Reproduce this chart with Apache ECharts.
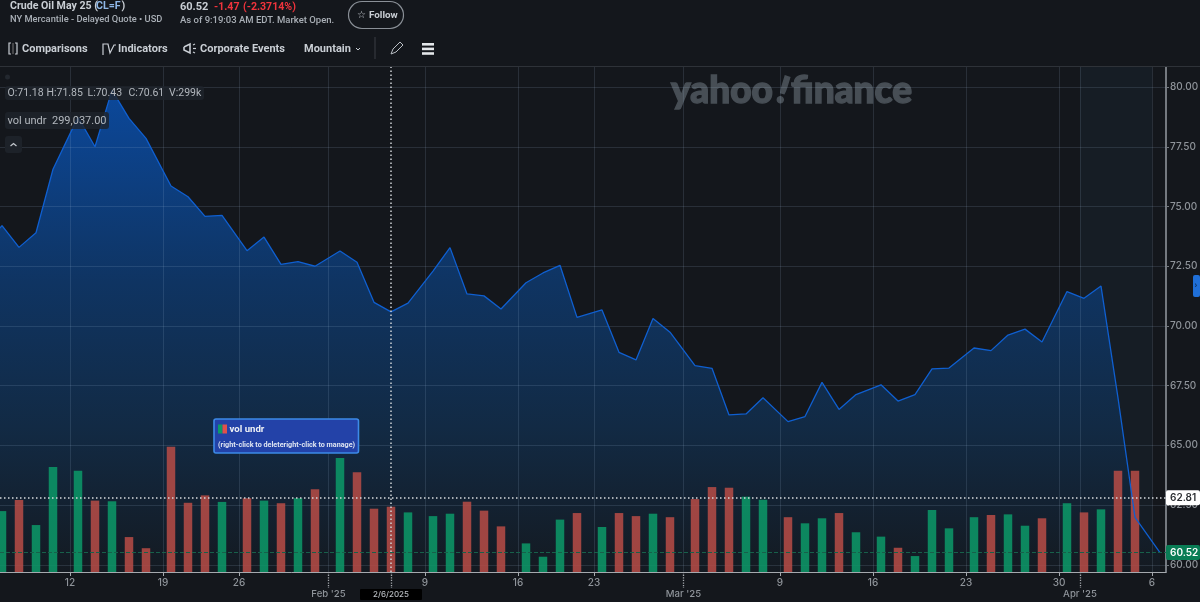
<!DOCTYPE html>
<html><head><meta charset="utf-8">
<style>html,body{margin:0;padding:0;background:#14171c}#c{width:1200px;height:602px}</style>
<script src="https://cdn.jsdelivr.net/npm/echarts@6/dist/echarts.min.js"></script>
</head><body><div id="c"></div>
<script>
const tradingDays = ['2025-01-06','2025-01-07','2025-01-08','2025-01-09','2025-01-10','2025-01-13','2025-01-14','2025-01-15','2025-01-16','2025-01-17','2025-01-21','2025-01-22','2025-01-23','2025-01-24','2025-01-27','2025-01-28','2025-01-29','2025-01-30','2025-01-31','2025-02-03','2025-02-04','2025-02-05','2025-02-06','2025-02-07','2025-02-10','2025-02-11','2025-02-12','2025-02-13','2025-02-14','2025-02-18','2025-02-19','2025-02-20','2025-02-21','2025-02-24','2025-02-25','2025-02-26','2025-02-27','2025-02-28','2025-03-03','2025-03-04','2025-03-05','2025-03-06','2025-03-07','2025-03-10','2025-03-11','2025-03-12','2025-03-13','2025-03-14','2025-03-17','2025-03-18','2025-03-19','2025-03-20','2025-03-21','2025-03-24','2025-03-25','2025-03-26','2025-03-27','2025-03-28','2025-03-31','2025-04-01','2025-04-02','2025-04-03','2025-04-04','2025-04-07'];
const closePrices = [73.40,74.20,73.29,73.90,76.56,78.74,77.50,79.87,78.69,77.85,75.86,75.41,74.59,74.63,73.15,73.72,72.58,72.69,72.50,73.14,72.67,70.99,70.59,70.96,72.30,73.28,71.34,71.26,70.71,71.81,72.22,72.54,70.36,70.67,68.90,68.58,70.31,69.74,68.34,68.23,66.28,66.32,67.00,66.00,66.21,67.64,66.51,67.13,67.54,66.86,67.13,68.21,68.24,69.08,68.97,69.62,69.87,69.33,71.44,71.16,71.67,66.99,61.99,60.52];
// volumes for the sessions from 2025-01-07 to 2025-04-04 (thousands)
const volumesK = [279,330,215,481,464,327,324,160,109,574,317,351,321,338,327,315,338,379,522,457,290,299,273,256,267,322,281,209,131,70,240,270,206,270,256,267,251,334,389,386,345,331,251,223,246,270,182,162,111,73,284,200,251,261,264,212,246,315,273,287,464,464];
const volumeDirs = 'GRGGGRGRRRRRGRGRGRGRRRGGGRRRGGGRGRRGRRRRGGRGGRGGRGGGGRGGRGRGRR'.split('');
const dayTicks = [['2025-01-12','12'],['2025-01-19','19'],['2025-01-26','26'],['2025-02-09','9'],['2025-02-16','16'],['2025-02-23','23'],['2025-03-09','9'],['2025-03-16','16'],['2025-03-23','23'],['2025-03-30','30'],['2025-04-06','6']];
const monthTicks = [['2025-02-01',"Feb '25"],['2025-03-01',"Mar '25"],['2025-04-01',"Apr '25"]];
const priceTicks = [60,62.5,65,67.5,70,72.5,75,77.5,80];
const lastPrice = 60.52, crossPrice = 62.81, crossDate = '2025-02-06', crossLabel = '2/6/2025';

const UP = '#0c9a68', DOWN = '#b84c46';
const FONT = "Roboto, 'DejaVu Sans', sans-serif";
const AXFONT = "Inter, 'DejaVu Sans', sans-serif";
const WEEKEND = 8/17;
const posByDate = {};
tradingDays.reduce((prev, d, i) => {
  const p = i === 0 ? -1 : prev + 1 + ((new Date(d) - new Date(tradingDays[i-1])) / 864e5 > 1 ? WEEKEND : 0);
  posByDate[d] = p; return p;
}, 0);
const tickPos = d => {
  if (posByDate[d] !== undefined) return posByDate[d] - 4/17;
  const dt = new Date(d);
  if (dt.getUTCDay() === 6) { const f = new Date(+dt - 864e5).toISOString().slice(0,10); return posByDate[f] + 13.5/17; }
  let n = +dt; let k;
  do { n += 864e5; k = new Date(n).toISOString().slice(0,10);} while (posByDate[k] === undefined);
  return posByDate[k] - WEEKEND;
};
const dayMap = dayTicks.map(t => [tickPos(t[0]), t[1]]);
const monthMap = monthTicks.map(t => [tickPos(t[0]), t[1]]);
const crossX = posByDate[crossDate];
const nearest = (map, v) => { let b = map[0]; map.forEach(m => { if (Math.abs(m[0]-v) < Math.abs(b[0]-v)) b = m; }); return b[1]; };
const xMin = -2/17, xMax = 1164/17;
const lineData = tradingDays.map((d,i) => [posByDate[d], closePrices[i]]);
const barData = volumesK.map((v,i) => ({ value:[posByDate[tradingDays[i+1]], v], itemStyle:{ color: volumeDirs[i]==='G'?UP:DOWN, opacity:.85 } }));
const areaFill = { type:'linear', global:true, x:0, y:90, x2:0, y2:572, colorStops:[
  {offset:0,color:'rgb(11,72,155)'},{offset:.4,color:'rgb(15,52,98)'},{offset:.7,color:'rgb(18,42,68)'},{offset:1,color:'rgb(20,26,33)'}]};

const txt = (x,y,text,font,fill,extra) => ({type:'text',silent:true,z:20,style:Object.assign({x,y,text,font:font+' '+FONT,fill,verticalAlign:'middle'},extra||{})});
const rect = (x,y,w,h,fill,r,extra) => ({type:'rect',silent:true,z:19,shape:{x,y,width:w,height:h,r:r||0},style:Object.assign({fill},extra||{})});
const poly = (pts,stroke,w) => ({type:'polyline',silent:true,z:20,shape:{points:pts},style:{stroke,lineWidth:w||1.2,fill:null}});
const C = '#c9ced4';
const WM = '#474e55';
const WMF = "900 37px Lato, sans-serif";
const header = [
  txt(10,6,'Crude Oil May 25 (','700 10.6px',C),
  txt(96,6,'CL=F','700 10.6px','#8fb8e8'),
  txt(121.5,6,')','700 10.6px',C),
  txt(10,20,'NY Mercantile - Delayed Quote • USD','500 9.3px','#a9afb6'),
  txt(180,7,'60.52','700 11px',C),
  txt(214,7,'-1.47','700 10.6px','#f0343c'),
  txt(243,7,'(-2.3714%)','700 10.6px','#f0343c'),
  txt(180,21,'As of 9:19:03 AM EDT. Market Open.','500 9.5px','#a9afb6'),
  {type:'rect',silent:true,z:19,shape:{x:348.5,y:1.5,width:55,height:27,r:13.5},style:{fill:'transparent',stroke:'#8a9097',lineWidth:1.2}},
  txt(357,15.5,'☆','700 10px',C),
  txt(369,15.5,'Follow','700 9.8px',C),
  poly([[11,43],[9,43],[9,54],[11,54]],C), poly([[15,43],[17,43],[17,54],[15,54]],C), poly([[13,43],[13,54]],'#777',1),
  txt(22,49.5,'Comparisons','700 11px',C),
  poly([[103,55],[103,44],[108,44],[110,53],[114,45],[116,45]],C),
  txt(118,49.5,'Indicators','700 11px',C),
  poly([[184,47],[190,44],[190,53],[184,50],[184,47]],C,1.6), poly([[193,45],[195,44]],C), poly([[193,48.5],[196,48.5]],C), poly([[193,52],[195,53]],C),
  txt(200,49.5,'Corporate Events','700 11px',C),
  txt(304,49.5,'Mountain','700 11px',C),
  poly([[356,48],[358,50],[360,48]],C,1),
  rect(374.5,37,1,22,'#3a3e44'),
  poly([[391,54],[393,49],[400,42],[403,45],[396,52],[391,54]],'#b9bec4',1),
  rect(422,43,12,2.6,'#e4e7ea'),rect(422,47.6,12,2.6,'#e4e7ea'),rect(422,52.2,12,2.6,'#e4e7ea'),
  rect(0,66,1200,1,'#2e3238'),
  {type:'circle',silent:true,z:19,shape:{cx:7.5,cy:77,r:2.5},style:{fill:'#23282f'}},
  rect(5,86,199,14,'rgba(30,35,43,.82)',3),
  txt(7.5,93.5,'O:71.18','400 10.5px','#b3b8be'),txt(46.5,93.5,'H:71.85','400 10.5px','#b3b8be'),txt(87.5,93.5,'L:70.43','400 10.5px','#b3b8be'),txt(128.5,93.5,'C:70.61','400 10.5px','#b3b8be'),txt(169,93.5,'V:299k','400 10.5px','#b3b8be'),
  rect(5,112,104,17,'rgba(30,35,43,.82)',3),
  txt(7.5,121,'vol undr','400 11px','#b3b8be'),txt(52,121,'299,037.00','400 11px','#b3b8be'),
  rect(5,136,17,17,'#1d2229',3),
  poly([[10.5,146],[13.5,143.5],[16.5,146]],'#c3c8ce',1.2),
  {type:'rect',silent:true,z:19,shape:{x:214,y:419,width:144.5,height:34,r:2},style:{fill:'#2342a8',stroke:'#3d8ae8',lineWidth:1.6}},
  rect(218,424.5,4.5,9,UP),rect(222.5,424.5,4.5,9,'#e0504a'),
  txt(229.5,429.5,'vol undr','700 9.6px','#eef1f6'),
  txt(218,445,'(right-click to deleteright-click to manage)','700 7.2px','#dfe5f2'),
  rect(1193,275,7,22,'#1f6fd8',2),
  txt(1194.5,286,'›','700 9px','#0d2a52'),
  {type:'text',silent:true,z:0,style:{x:671,y:91,text:'yahoo',font:WMF,fill:WM,stroke:WM,lineWidth:1.4,verticalAlign:'middle'}},
  {type:'text',silent:true,z:0,x:783,y:91,rotation:-0.3,style:{x:0,y:0,text:'!',font:WMF,fill:WM,stroke:WM,lineWidth:1.4,align:'center',verticalAlign:'middle'}},
  {type:'text',silent:true,z:0,style:{x:791,y:91,text:'finance',font:WMF,fill:WM,stroke:WM,lineWidth:1.4,verticalAlign:'middle'}}
];

const gridLineStyle = {color:'rgba(170,195,225,.14)',width:1,type:'solid'};
const dotted = {type:[1.5,2.5],width:1.5};
const chart = echarts.init(document.getElementById('c'),null,{renderer:'canvas'});
chart.setOption({
  animation:false,
  backgroundColor:'#14171c',
  textStyle:{fontFamily:AXFONT},
  grid:{left:0,right:34,top:67,bottom:30,containLabel:false,outerBoundsMode:'none'},
  xAxis:[
    {type:'value',min:xMin,max:xMax,position:'bottom',splitLine:{show:false},
      axisLine:{onZero:false,lineStyle:{color:'#a5a9ae',width:1}},
      axisTick:{customValues:dayMap.map(m=>m[0]),length:4,lineStyle:{color:'#a5a9ae'}},
      axisLabel:{customValues:dayMap.map(m=>m[0]),margin:6,color:'#8f949a',fontSize:10,fontWeight:500,formatter:v=>nearest(dayMap,v)}},
    {type:'value',min:xMin,max:xMax,position:'bottom',splitLine:{show:false},
      axisLine:{show:false},
      axisTick:{customValues:monthMap.map(m=>m[0]).concat([crossX]),length:16,lineStyle:{color:'#a5a9ae',type:'dotted',width:1.3}},
      axisLabel:{customValues:monthMap.map(m=>m[0]).concat([crossX]),margin:17,color:'#8f949a',fontSize:9.6,fontWeight:500,
        formatter:v=> Math.abs(v-crossX)<1e-6 ? '{c|'+crossLabel+'}' : nearest(monthMap,v),
        rich:{c:{backgroundColor:'#000',color:'#b9bdc2',fontSize:8,width:62,height:10,align:'center',padding:[1,0,0,0],borderRadius:1}}}}
  ],
  yAxis:[
    {type:'value',min:59.707,max:80.837,position:'right',scale:true,splitLine:{show:false},
      axisLine:{show:true,onZero:false,lineStyle:{color:'#74797f',width:2}},
      axisTick:{show:true,customValues:priceTicks,length:3,lineStyle:{color:'#74797f'}},
      axisLabel:{customValues:priceTicks,margin:4,color:'#8f949a',fontSize:10,fontWeight:500,formatter:v=>v.toFixed(2)}},
    {type:'value',min:0,max:2313,show:false,splitLine:{show:false}}
  ],
  graphic:{elements:header},
  series:[
    {type:'line',name:'area',data:lineData,symbol:'none',z:2,lineStyle:{width:0},areaStyle:{color:areaFill,origin:'start',opacity:1},silent:true,
      markArea:{silent:true,z:1,itemStyle:{color:'#161d25'},data:[[{xAxis:tickPos('2025-04-01')},{xAxis:tickPos('2025-04-06')}]]},
      markLine:{silent:true,z:3,symbol:'none',animation:false,label:{show:false},lineStyle:gridLineStyle,
        data:priceTicks.map(v=>({yAxis:v})).concat(dayMap.concat(monthMap).map(m=>({xAxis:m[0]})))}},
    {type:'bar',name:'vol undr',yAxisIndex:1,data:barData,barWidth:8.5,z:4,silent:true},
    {type:'line',name:'price',data:lineData,symbol:'none',z:6,lineStyle:{color:'#0f5fd0',width:1.3},silent:true,
      markLine:{silent:true,z:7,symbol:'none',animation:false,
        data:[
          {yAxis:crossPrice,lineStyle:Object.assign({color:'#d8dbde'},dotted),label:{show:true,position:'end',distance:0,formatter:crossPrice.toFixed(2),backgroundColor:'#fff',color:'#2a2d31',fontSize:10,fontWeight:600,width:30,height:15,lineHeight:15,align:'left',padding:[0,0,0,4],borderRadius:2}},
          {yAxis:lastPrice,lineStyle:{color:'#17604a',type:'dashed',width:1},label:{show:true,position:'end',distance:0,formatter:lastPrice.toFixed(2),backgroundColor:'#0a7d55',color:'#fff',fontSize:10,fontWeight:600,width:30,height:15,lineHeight:15,align:'left',padding:[0,0,0,4],borderRadius:2}},
          {xAxis:crossX,lineStyle:Object.assign({color:'#d0d4d8'},dotted),label:{show:false}}
        ]}}
  ]
});
</script></body></html>
